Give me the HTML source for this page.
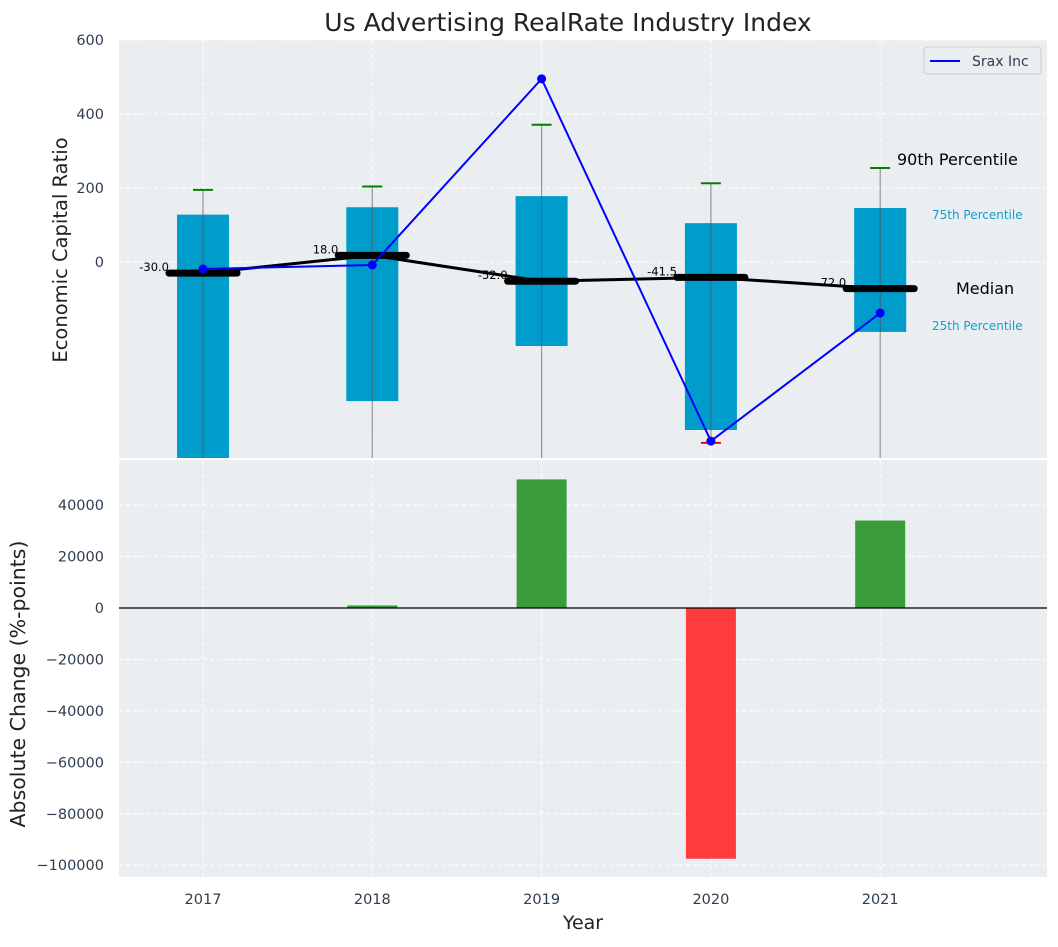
<!DOCTYPE html>
<html><head><meta charset="utf-8"><style>
body{margin:0;background:#fff;font-family:"Liberation Sans","DejaVu Sans",sans-serif}
svg text{font-family:"DejaVu Sans","Liberation Sans",sans-serif}
</style></head><body>
<svg id="c" width="1058" height="942" xmlns="http://www.w3.org/2000/svg"></svg>
<script>
const years=[2017,2018,2019,2020,2021];
const q1=[-600,-376,-227,-454,-189];
const q3=[128,148,178,105,146];
const p90=[195,204,371,213,254];
const p10=[-700,-700,-700,-489,-700];
const medians=[-30,18,-52,-41.5,-72];
const medianLabels=["-30.0","18.0","-52.0","-41.5","-72.0"];
const srax=[-19,-8,495,-484,-138];
const changes=[0,1000,50000,-97500,34000];
const topTicks=[600,400,200,0];
const botTicks=[40000,20000,0,-20000,-40000,-60000,-80000,-100000];
const botTickLabels=["40000","20000","0","\u221220000","\u221240000","\u221260000","\u221280000","\u2212100000"];

const NS="http://www.w3.org/2000/svg",svg=document.getElementById('c');
function el(t,a,p){const e=document.createElementNS(NS,t);for(const k in a)e.setAttribute(k,a[k]);(p||svg).appendChild(e);return e;}
const L=119,R=1047,T1=40,B1=458,T2=460,B2=877;
const TC='#2e3d50';
const x=v=>203+(v-2017)*169.3;
const y1=v=>262-v*0.37;
const y2=v=>608-v*0.002572;

let e=el('rect',{x:L,y:T1,width:R-L,height:B1-T1,fill:'#eaeef0'});

e=el('rect',{x:L,y:T2,width:R-L,height:B2-T2,fill:'#eaeef0'});

const clip1=el('clipPath',{id:'cp1'});el('rect',{x:L,y:T1,width:R-L,height:B1-T1},clip1);
const g1=el('g',{'clip-path':'url(#cp1)'});
years.forEach(v=>{
 el('line',{x1:x(v),x2:x(v),y1:T1,y2:B1,stroke:'#fff','stroke-dasharray':'4,3'},g1);
 el('line',{x1:x(v),x2:x(v),y1:T2,y2:B2,stroke:'#fff','stroke-dasharray':'4,3'});
 e=el('text',{x:x(v),y:904,'text-anchor':'middle','font-size':14.5,fill:TC});e.textContent=v;
 
});
topTicks.forEach(v=>{
 el('line',{x1:L,x2:R,y1:y1(v),y2:y1(v),stroke:'#fff','stroke-dasharray':'4,3'},g1);
 e=el('text',{x:104,y:y1(v)+5,'text-anchor':'end','font-size':14.5,fill:TC});e.textContent=v;
 
});
botTicks.forEach((v,i)=>{
 el('line',{x1:L,x2:R,y1:y2(v),y2:y2(v),stroke:'#fff','stroke-dasharray':'4,3'});
 e=el('text',{x:104,y:y2(v)+5,'text-anchor':'end','font-size':14.5,fill:TC});e.textContent=botTickLabels[i];
 
});
years.forEach((v,i)=>{
 e=el('rect',{x:x(v)-26,y:y1(q3[i]),width:52,height:y1(q1[i])-y1(q3[i]),fill:'#009ccc'},g1);
 
 el('line',{x1:x(v),x2:x(v),y1:y1(p90[i]),y2:y1(p10[i]),stroke:'#555','stroke-opacity':0.6,'stroke-width':1.2},g1);
 el('line',{x1:x(v)-10,x2:x(v)+10,y1:y1(p90[i]),y2:y1(p90[i]),stroke:'green','stroke-width':2},g1);
 el('line',{x1:x(v)-10,x2:x(v)+10,y1:y1(p10[i]),y2:y1(p10[i]),stroke:'red','stroke-width':2},g1);
});
e=el('polyline',{points:years.map((v,i)=>x(v)+','+y1(medians[i])).join(' '),fill:'none',stroke:'#000','stroke-width':3},g1);

years.forEach((v,i)=>{
 e=el('line',{x1:x(v)-34,x2:x(v)+34,y1:y1(medians[i]),y2:y1(medians[i]),stroke:'#000','stroke-width':7,'stroke-linecap':'round'},g1);
 
 e=el('text',{x:x(v)-34,y:y1(medians[i])-2,'text-anchor':'end','font-size':11.5,fill:'#000'});e.textContent=medianLabels[i];
 
});
e=el('polyline',{points:years.map((v,i)=>x(v)+','+y1(srax[i])).join(' '),fill:'none',stroke:'#0000ff','stroke-width':2},g1);

years.forEach((v,i)=>{e=el('circle',{cx:x(v),cy:y1(srax[i]),r:4.5,fill:'#0000ff'},g1);
 });
[[897,165,'90th Percentile',16,'#000'],[932,219,'75th Percentile',12,'#0fa0d0'],[956,294,'Median',16,'#000'],[932,330,'25th Percentile',12,'#0fa0d0']].forEach(a=>{
 e=el('text',{x:a[0],y:a[1],'font-size':a[3],fill:a[4]});e.textContent=a[2];
 
});
const lg=el('g',{});
el('rect',{x:924,y:47,width:117,height:27,rx:3,fill:'#eaeef0',stroke:'#ccc'},lg);
el('line',{x1:930,x2:960,y1:61,y2:61,stroke:'#0000ff','stroke-width':2},lg);
e=el('text',{x:972,y:66,'font-size':14,fill:TC},lg);e.textContent='Srax Inc';
years.forEach((v,i)=>{
 const c=changes[i];
 e=el('rect',{x:x(v)-25,y:Math.min(y2(0),y2(c)),width:50,height:Math.abs(y2(c)-y2(0)),fill:c>=0?'#3a9c3a':'#ff3c3c'});
 
});
el('line',{x1:L,x2:R,y1:y2(0),y2:y2(0),stroke:'#000','stroke-width':1.2});
e=el('text',{x:568,y:31,'text-anchor':'middle','font-size':25,fill:'#222'});e.textContent='Us Advertising RealRate Industry Index';

e=el('text',{x:0,y:0,'text-anchor':'middle','font-size':19.5,fill:'#222',transform:'translate(67,250) rotate(-90)'});e.textContent='Economic Capital Ratio';

e=el('text',{x:0,y:0,'text-anchor':'middle','font-size':20.5,fill:'#222',transform:'translate(25,684) rotate(-90)'});e.textContent='Absolute Change (%-points)';

e=el('text',{x:583,y:929,'text-anchor':'middle','font-size':19,fill:'#222'});e.textContent='Year';

</script>
</body></html>
